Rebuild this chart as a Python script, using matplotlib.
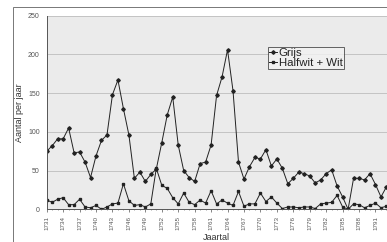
import matplotlib.pyplot as plt
from matplotlib.patches import Rectangle
import numpy as np

# GLOBAL SETTINGS ----------------------------------------------------------
plt.rcParams['font.family'] = ['Liberation Sans', 'DejaVu Sans']

# DATA -------------------------------------------------------------------------
years = list(range(1731, 1794))

grijs = [75, 82, 91, 91, 105, 73, 74, 61, 41, 69,
         89, 96, 148, 167, 130, 96, 40, 48, 36, 45,
         52, 86, 122, 145, 83, 50, 41, 36, 59, 61,
         83, 147, 171, 206, 153, 61, 39, 55, 67, 65,
         77, 56, 65, 53, 33, 40, 48, 46, 43, 34,
         38, 46, 51, 30, 16, 0, 40, 40, 38, 46,
         32, 16, 29]

halfwit_wit = [12, 9, 13, 15, 6, 6, 13, 3, 2, 5,
               0, 3, 7, 8, 33, 11, 5, 6, 3, 7,
               53, 31, 27, 15, 7, 21, 9, 6, 12, 8,
               24, 7, 12, 8, 5, 23, 4, 7, 7, 21,
               10, 16, 8, 1, 3, 3, 2, 3, 3, 1,
               7, 8, 9, 18, 3, 0, 7, 6, 2, 5,
               8, 2, 4]

series_names = ['Grijs', 'Halfwit + Wit']
tick_years = list(range(1731, 1794, 3))
y_ticks = [0, 50, 100, 150, 200, 250]

# FIGURE -------------------------------------------------------------------------
fig = plt.figure(figsize=(3.87, 2.42), dpi=100)
W, H = 387, 242

# outer chart border (clipped at right and bottom in the scan)
fig.add_artist(Rectangle((13 / W, -0.1), 1.2, (242 - 7) / H + 0.1,
                         transform=fig.transFigure, fill=False,
                         edgecolor='#777777', linewidth=0.7))

ax = fig.add_axes([46.7 / W, (H - 209.3) / H, (W - 46.7) / W, 193.6 / H])
ax.set_facecolor('#ebebeb')

ax.plot(years, grijs, color='#222222', linewidth=0.7,
        marker='D', markersize=1.8, label=series_names[0])
ax.plot(years, halfwit_wit, color='#222222', linewidth=0.7,
        marker='s', markersize=2.0, label=series_names[1])

ax.set_xlim(1731, 1793.1)
ax.set_ylim(0, 250)
ax.set_yticks(y_ticks)
ax.set_xticks(tick_years)
ax.set_xticks(years, minor=True)
ax.set_xticklabels([str(y) for y in tick_years], rotation=90)

ax.grid(axis='y', color='#bdbdbd', linewidth=0.6)
ax.set_axisbelow(True)

for side in ['top', 'right']:
    ax.spines[side].set_visible(False)
ax.spines['left'].set_color('#555555')
ax.spines['bottom'].set_color('#555555')
ax.spines['left'].set_linewidth(0.7)
ax.spines['bottom'].set_linewidth(0.7)

ax.tick_params(axis='y', labelsize=5, labelcolor='#555555', length=0, pad=5)
ax.tick_params(axis='x', labelsize=4.5, labelcolor='#555555', length=2,
               width=0.5, color='#555555', pad=3)
ax.tick_params(axis='x', which='minor', length=1, width=0.4, color='#555555')

ax.set_ylabel('Aantal per jaar', fontsize=6.5, color='#333333', labelpad=3)
ax.set_xlabel('Jaartal', fontsize=6.5, color='#333333', labelpad=2)

leg = ax.legend(loc='upper left', bbox_to_anchor=(0.65, 0.84), fontsize=8.2,
                frameon=True, fancybox=False, borderpad=0.1, labelspacing=0.0,
                handlelength=0.7, handletextpad=0.15, borderaxespad=0)
leg.get_frame().set_edgecolor('#222222')
leg.get_frame().set_linewidth(0.6)
leg.get_frame().set_facecolor('#f2f2f2')
for t in leg.get_texts():
    t.set_color('#222222')

fig.savefig('out.png', dpi=100)
